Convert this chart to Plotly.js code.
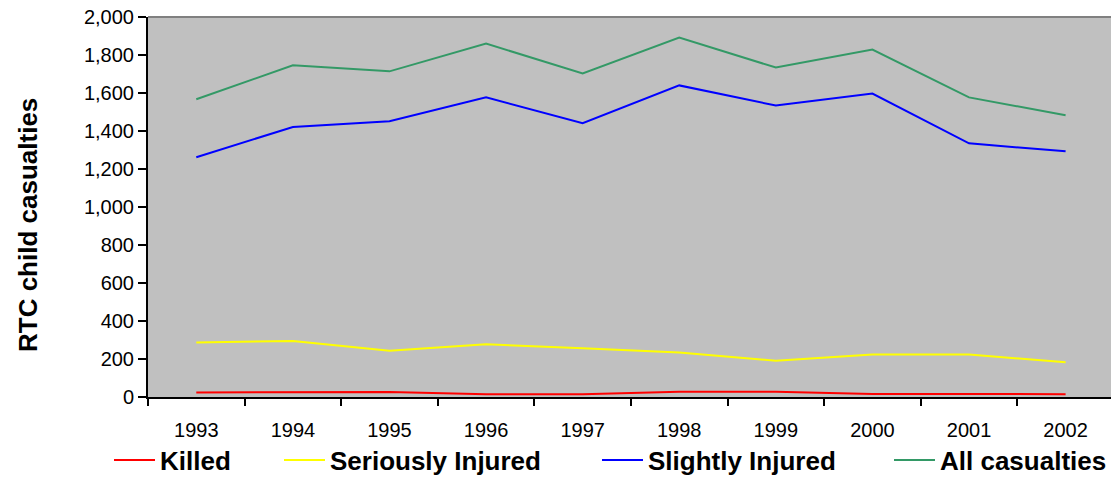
<!DOCTYPE html>
<html>
<head>
<meta charset="utf-8">
<script src="https://cdn.plot.ly/plotly-3.0.1.min.js"></script>
<style>html,body{margin:0;padding:0;background:#fff;}#chart{width:1111px;height:477px;}</style>
</head>
<body>
<div id="chart"></div>
<script>
var years = ['1993','1994','1995','1996','1997','1998','1999','2000','2001','2002'];
var killed = [24, 25, 26, 14, 14, 28, 27, 16, 15, 15];
var seriouslyInjured = [287, 295, 243, 278, 256, 234, 191, 224, 224, 183];
var slightlyInjured = [1262, 1421, 1451, 1577, 1441, 1640, 1534, 1597, 1335, 1293];
var allCasualties = [1567, 1746, 1714, 1860, 1703, 1892, 1734, 1829, 1577, 1483];
var seriesNames = ['Killed', 'Seriously Injured', 'Slightly Injured', 'All casualties'];
var seriesColors = ['#ff0000', '#ffff00', '#0000ff', '#339966'];
var seriesValues = [killed, seriouslyInjured, slightlyInjured, allCasualties];
var yTitle = 'RTC child casualties';

var font = '"Liberation Sans", Arial, sans-serif';
var legendIds = ['legend', 'legend2', 'legend3', 'legend4'];
var legendTextPx = [160, 330, 648, 940];
var plotLeft = 148, plotWidth = 963;

var traces = seriesValues.map(function(v, i){
  return {x: years, y: v, type: 'scatter', mode: 'lines', name: seriesNames[i],
          legend: legendIds[i], line: {color: seriesColors[i], width: 2}};
});

var layout = {
  width: 1111, height: 477,
  margin: {l: 148, r: 0, t: 17, b: 80, pad: 0, autoexpand: false},
  paper_bgcolor: '#ffffff',
  plot_bgcolor: '#c0c0c0',
  font: {family: font, color: '#000000', size: 20},
  showlegend: true,
  xaxis: {type: 'category', range: [-0.5, 9.47], showgrid: false, zeroline: false, automargin: false,
          showline: true, linecolor: '#000', linewidth: 2,
          ticks: 'outside', tickson: 'boundaries', ticklen: 7, tickcolor: '#000', tickwidth: 2,
          ticklabelstandoff: 14, tickfont: {family: font, size: 20, color: '#000'}, fixedrange: true},
  yaxis: {range: [0, 2000], dtick: 200, tickformat: ',d', showgrid: false, zeroline: false, automargin: false,
          showline: true, linecolor: '#000', linewidth: 2,
          ticks: 'outside', ticklen: 8, tickcolor: '#000', tickwidth: 2,
          tickfont: {family: font, size: 20, color: '#000'}, fixedrange: true},
  shapes: [{type: 'line', xref: 'paper', yref: 'paper', x0: 0, x1: 1, y0: 1, y1: 1,
            line: {color: '#808080', width: 2}}],
  annotations: [{text: '<b>' + yTitle + '</b>', xref: 'paper', yref: 'paper', x: 0, y: 0.5,
                 xanchor: 'center', yanchor: 'middle', xshift: -120, yshift: -18, textangle: -90,
                 showarrow: false, font: {family: font, size: 26, color: '#000'}}]
};

legendIds.forEach(function(id, i){
  layout[id] = {orientation: 'h', x: (legendTextPx[i] - 51 - plotLeft) / plotWidth, xanchor: 'left',
                y: -0.166, yanchor: 'middle', itemwidth: 41,
                font: {family: font, size: 26, color: '#000', weight: 'bold'},
                bgcolor: 'rgba(0,0,0,0)'};
});

Plotly.newPlot('chart', traces, layout, {displayModeBar: false, staticPlot: true});
</script>
</body>
</html>
